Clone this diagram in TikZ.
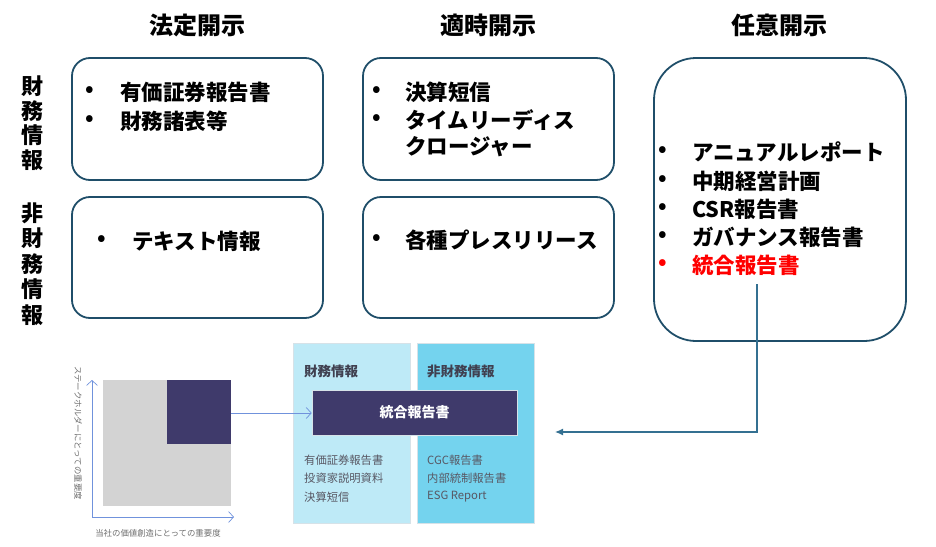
\documentclass[tikz,border=0pt]{standalone}
\usepackage{fontspec}
\setmainfont{Noto Sans CJK JP}
\usetikzlibrary{arrows.meta}
\definecolor{boxline}{RGB}{31,78,105}
\definecolor{conn}{RGB}{52,112,145}
\definecolor{axisblue}{RGB}{112,146,220}
\definecolor{navy}{RGB}{63,58,107}
\definecolor{panelA}{RGB}{190,234,247}
\definecolor{panelB}{RGB}{116,211,238}
\definecolor{panelline}{RGB}{214,226,232}
\definecolor{headgray}{RGB}{64,64,80}
\definecolor{itemgray}{RGB}{88,88,100}
\definecolor{axgray}{RGB}{110,110,110}
\definecolor{squaregray}{RGB}{211,211,211}
\tikzset{
  disc/.style={draw=boxline, line width=1.8pt, rounded corners=18pt, inner sep=0pt},
  header/.style={font=\fontsize{24pt}{28pt}\selectfont\bfseries, inner sep=0pt},
  side/.style={font=\fontsize{22pt}{24.5pt}\selectfont\bfseries, align=center, inner sep=0pt},
  item/.style={font=\fontsize{21.5pt}{25pt}\selectfont\bfseries, anchor=west, inner sep=0pt},
  bul/.style={font=\fontsize{21.5pt}{25pt}\selectfont\bfseries, inner sep=0pt},
  phead/.style={font=\fontsize{13.5pt}{16pt}\selectfont\bfseries, text=headgray, anchor=west, inner sep=0pt},
  pitem/.style={font=\fontsize{11.3pt}{14pt}\selectfont, text=itemgray, anchor=west, inner sep=0pt},
  axlabel/.style={font=\fontsize{8.4pt}{10pt}\selectfont, text=axgray, inner sep=0pt},
  openarrow/.style={draw=axisblue, line width=0.7pt, -{Straight Barb[length=5pt,width=11pt]}},
}
\begin{document}
\begin{tikzpicture}[x=1pt,y=-1pt]
\useasboundingbox (0,0) rectangle (936,546);

% headers
\node[header] (h1) at (197,25) {法定開示};
\node[header] (h2) at (488,25) {適時開示};
\node[header] (h3) at (779,25) {任意開示};

% side labels
\node[side] (s1) at (32,123) {財\\務\\情\\報};
\node[side, font=\fontsize{22pt}{25.5pt}\selectfont\bfseries] (s2) at (32,264) {非\\財\\務\\情\\報};

% boxes
\draw[disc] (72,58) rectangle (323,180); \coordinate (b1) at (72,58);
\draw[disc] (72,197) rectangle (323,318);
\draw[disc] (363,58) rectangle (614,180);
\draw[disc] (363,197) rectangle (614,318);
\draw[disc, rounded corners=42pt] (654,58) rectangle (906,341);

% box1
\node[bul] (b1a) at (90,92) {•};
\node[item] (t1a) at (120,92) {有価証券報告書};
\node[bul] (b1b) at (90,121) {•};
\node[item] (t1b) at (120,121) {財務諸表等};
% box2
\node[bul] (b2a) at (102,241) {•};
\node[item] (t2a) at (132,241) {テキスト情報};
% box3
\node[bul] (b3a) at (377,92) {•};
\node[item] (t3a) at (405,92) {決算短信};
\node[bul] (b3b) at (377,120) {•};
\node[item] (t3b) at (405,120) {タイムリーディス};
\node[item] (t3c) at (405,147) {クロージャー};
% box4
\node[bul] (b4a) at (377,240) {•};
\node[item] (t4a) at (405,240) {各種プレスリリース};
% box5
\node[bul] (b5a) at (663,152) {•};
\node[item] (t5a) at (692,152) {アニュアルレポート};
\node[bul] (b5b) at (663,181) {•};
\node[item] (t5b) at (692,181) {中期経営計画};
\node[bul] (b5c) at (663,209) {•};
\node[item] (t5c) at (692,209) {CSR報告書};
\node[bul] (b5d) at (663,237) {•};
\node[item] (t5d) at (692,237) {ガバナンス報告書};
\node[bul, text=red] (b5e) at (663,265) {•};
\node[item, text=red] (t5e) at (692,265) {統合報告書};

% connector
\coordinate (cstart) at (757,284);
\coordinate (cend) at (555,432);
\draw[conn, line width=1.2pt, -{Latex[length=8pt,width=7pt]}] (cstart) |- (cend);

% matrix
\fill[squaregray] (103,380) rectangle (231,506);
\fill[navy] (167,380) coordinate (nvtl) rectangle (231,444);
\coordinate (origin) at (92,517);
\coordinate (ytip) at (92,380);
\coordinate (xtip) at (234,517);
\draw[openarrow] (origin) -- (ytip);
\draw[openarrow] (origin) -- (xtip);
\node[axlabel, rotate=-90] (ylab) at (78,433) {ステークホルダーにとっての重要度};
\node[axlabel] (xlab) at (158,533) {当社の価値創造にとっての重要度};

% panels
\draw[fill=panelA, draw=panelline, line width=0.8pt] (293,343) rectangle (410,523);
\draw[fill=panelB, draw=panelline, line width=0.8pt] (417,343) rectangle (534,523);
\node[phead] (p1h) at (304,371) {財務情報};
\node[phead] (p2h) at (427,371) {非財務情報};
\node[fill=navy, draw=panelline, line width=0.6pt, minimum width=205pt, minimum height=45pt, inner sep=0pt, text=white, font=\fontsize{14pt}{16pt}\selectfont\bfseries] (banner) at (414.5,412.5) {統合報告書};
\coordinate (mright) at (231,413);
\draw[openarrow] (mright) -- (banner.west |- mright);

\node[pitem] (p1a) at (304,460) {有価証券報告書};
\node[pitem] (p1b) at (304,478) {投資家説明資料};
\node[pitem] (p1c) at (304,497) {決算短信};
\node[pitem] (p2a) at (427,460) {CGC報告書};
\node[pitem] (p2b) at (427,478) {内部統制報告書};
\node[pitem] (p2c) at (427,497) {ESG Report};
\end{tikzpicture}
\end{document}
